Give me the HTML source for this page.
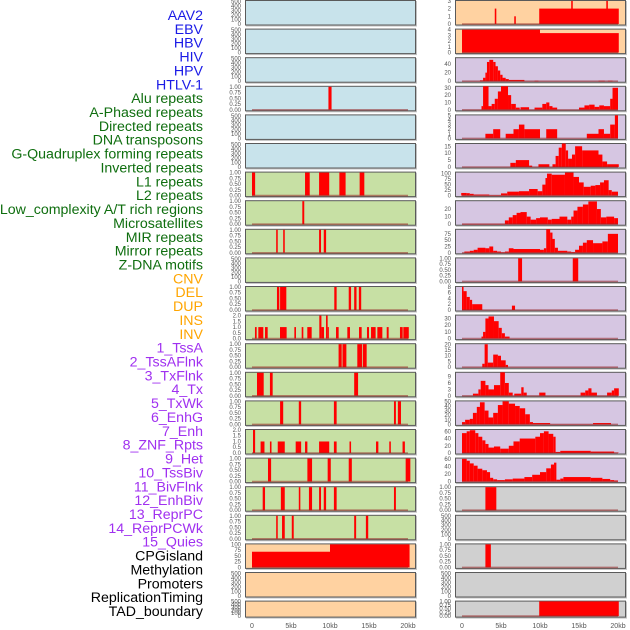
<!DOCTYPE html>
<html><head><meta charset="utf-8"><style>
html,body{margin:0;padding:0;background:#fff;}
svg{display:block;font-family:"Liberation Sans",sans-serif;}
</style></head><body>
<svg id="chart" width="630" height="630" viewBox="0 0 630 630"></svg>
<script>
// ---- labels ----
const trackLabels = ["AAV2","EBV","HBV","HIV","HPV","HTLV-1","Alu repeats","A-Phased repeats","Directed repeats","DNA transposons","G-Quadruplex forming repeats","Inverted repeats","L1 repeats","L2 repeats","Low_complexity A/T rich regions","Microsatellites","MIR repeats","Mirror repeats","Z-DNA motifs","CNV","DEL","DUP","INS","INV","1_TssA","2_TssAFlnk","3_TxFlnk","4_Tx","5_TxWk","6_EnhG","7_Enh","8_ZNF_Rpts","9_Het","10_TssBiv","11_BivFlnk","12_EnhBiv","13_ReprPC","14_ReprPCWk","15_Quies","CPGisland","Methylation","Promoters","ReplicationTiming","TAD_boundary"];
const labelGroups = [6,13,5,15,5]; // blue, green, orange, purple, black
const xTickLabels = ["0","5kb","10kb","15kb","20kb"];
const xTickValues = [0,5,10,15,20];
// ---- y tick arrays ----
const tEmpty = [0,100,200,300,400,500];
const tUnit = [0,0.25,0.5,0.75,1];
const tTwo = [0,0.5,1,1.5,2];
// ---- left column segments [startKb, endKb, value] ----
const L_HIV = [[9.8,10.2,1]];
const L_row7 = [[0,0.4,1],[6.8,7.4,1],[8.6,9.9,1],[11.2,12.0,1],[13.8,14.4,1]];
const L_row8 = [[6.45,6.7,1]];
const L_row9 = [[3.1,3.3,1],[4.0,4.2,1],[8.6,8.85,1],[9.2,9.5,1]];
const L_row11 = [[3.2,3.5,1],[3.6,4.4,1],[10.55,10.85,1],[12.4,12.7,1],[13.1,13.4,1],[13.7,14.0,1]];
const L_row12 = [[0.38,0.6,1],[0.81,1.45,1],[1.67,2.01,1],[3.59,4.44,1],[5.43,5.64,1],[6.37,6.58,1],[7.09,7.65,1],[8.63,8.9,2],[8.9,9.23,1],[9.49,9.7,2],[9.7,9.79,1],[10.77,11.11,1],[12.22,12.56,1],[13.72,14.06,1],[14.74,15.0,1],[15.26,15.85,1],[16.07,16.71,1],[17.27,17.52,1],[18.97,19.32,1],[19.4,20.1,1]];
const L_row13 = [[11.1,11.5,1],[11.6,12.1,1],[13.5,14.1,1],[14.2,14.7,1]];
const L_row14 = [[0.64,1.5,1],[2.3,2.65,1],[13.1,13.6,1]];
const L_row15 = [[3.6,4.0,1],[6.0,6.3,1],[10.5,10.85,1],[18.2,18.45,1],[18.7,19.1,1]];
const L_row16 = [[0.13,0.4,2],[1.1,1.6,1],[2.3,2.5,1],[3.3,4.2,1],[5.6,6.3,1],[6.8,7.1,1],[8.6,9.9,1],[10.5,10.85,1],[12.5,12.7,1],[15.9,16.2,1],[17.6,17.8,1],[19.3,19.6,1]];
const L_row17 = [[2.05,2.45,1],[7.1,7.7,1],[9.7,10.1,1],[12.4,12.8,1],[19.7,20.3,1]];
const L_row18 = [[1.37,1.67,1],[3.7,4.2,1],[6.0,6.2,1],[7.3,7.7,1],[8.6,8.85,1],[9.2,9.5,1],[10.5,10.85,1],[18.2,18.45,1]];
const L_row19 = [[3.1,3.3,1],[3.85,4.2,1],[5.1,5.35,1],[13.1,13.35,1],[14.6,14.9,1]];
const L_row20 = [[0,10,68],[10,20.2,100]];
// ---- right column segments ----
const R_AAV2 = [[4.2,4.4,2],[6.7,6.9,1],[9.9,20.1,2],[14.0,14.2,3],[18.5,18.7,3]];
const R_EBV = [[0,10,4],[10,20.1,3.4]];
const R_HBV = [[2.3,2.7,2],[2.7,3.0,8],[3.0,3.2,20],[3.2,3.5,45],[3.5,4.0,50],[4.0,4.3,45],[4.3,4.6,35],[4.6,4.9,25],[4.9,5.2,15],[5.2,5.6,8],[5.6,6.0,5],[6.0,8.0,3],[9.3,9.8,1],[17.5,18.3,1],[18.7,19.3,1]];
const R_HIV = [[2.5,2.7,5],[2.7,3.4,32],[3.4,3.8,5],[3.8,4.2,8],[4.2,4.6,15],[4.6,5.0,25],[5.0,5.9,32],[5.9,6.3,20],[6.3,6.9,8],[6.9,7.4,3],[7.5,8.6,3.5],[9.3,10.3,3],[10.3,10.8,8],[10.8,11.2,10],[11.2,11.6,5],[11.6,12.2,3],[15.0,15.7,3],[15.7,16.3,6],[16.3,17.0,7],[17.0,17.6,4],[17.6,18.2,6],[18.2,19.0,5],[19.0,19.3,15],[19.3,20.0,30]];
const R_HPV = [[3.0,4.0,1],[4.0,4.9,2],[5.6,6.6,1],[6.6,7.3,2],[7.3,8.0,3],[8.0,10.0,2],[10.8,12.2,2],[16.0,17.5,1],[17.5,18.2,2],[18.2,19.0,1],[19.0,19.6,3],[19.6,20.0,5]];
const R_HTLV = [[6.2,6.9,3],[6.9,8.6,5],[8.6,9.0,1],[9.8,11.2,2],[11.6,12.0,2],[12.0,12.4,8],[12.4,12.8,14],[12.8,13.3,17],[13.3,13.6,12],[13.6,14.1,6],[14.1,14.5,9],[14.5,15.4,15],[15.4,17.5,12],[17.5,18.0,9],[18.0,18.6,4],[18.6,20.1,2]];
const R_row7 = [[-0.1,0.6,12],[0.6,1.0,11],[1.0,1.5,8],[1.5,3.5,5],[3.5,5.0,2],[5.0,5.8,10],[5.8,7.3,18],[7.3,8.6,20],[8.6,9.7,30],[9.7,10.3,20],[10.3,10.7,50],[10.7,10.9,80],[10.9,11.5,100],[11.5,13.2,95],[13.2,14.3,105],[14.3,15.0,85],[15.0,15.6,60],[15.6,16.5,40],[16.5,17.1,45],[17.1,17.7,48],[17.7,18.2,60],[18.2,18.8,70],[18.8,19.2,25],[19.2,20.0,18]];
const R_row8 = [[0,5.5,0.5],[5.5,6.0,5],[6.0,6.5,9],[6.5,7.0,12],[7.0,7.5,15],[7.5,8.3,16],[8.3,8.8,10],[8.8,9.5,6],[9.5,10.0,8],[10.0,11.0,9],[11.0,11.5,6],[11.5,12.5,7],[12.5,13.5,10],[13.5,14.0,6],[14.0,14.3,10],[14.3,14.8,18],[14.8,15.5,23],[15.5,16.2,26],[16.2,17.3,30],[17.3,17.8,20],[17.8,18.5,9],[18.5,19.5,10],[19.5,20.0,8]];
const R_row9 = [[0.3,1.0,5],[1.0,1.5,8],[1.5,2.0,12],[2.0,3.0,20],[3.0,3.5,18],[3.5,4.0,25],[4.0,4.5,8],[4.5,5.0,5],[5.0,5.5,2],[5.5,6.0,5],[6.0,6.6,18],[6.6,10.0,15],[10.0,10.5,12],[10.5,10.8,18],[10.8,11.3,93],[11.3,11.6,80],[11.6,11.9,55],[11.9,12.3,20],[12.3,13.5,8],[13.5,14.0,5],[14.0,14.5,3],[14.5,15.0,12],[15.0,15.5,28],[15.5,16.0,40],[16.0,16.8,50],[16.8,18.0,38],[18.0,18.7,45],[18.7,20.0,75]];
const R_row10 = [[7.2,7.7,1],[14.2,14.9,1]];
const R_row11 = [[0,0.2,8],[0.2,0.6,6.5],[0.6,1.0,4.5],[1.0,1.3,3.5],[1.3,2.6,2],[6.4,6.8,1.5]];
const R_row12 = [[2.5,2.7,3],[2.7,3.0,10],[3.0,3.4,30],[3.4,4.1,33],[4.1,4.7,26],[4.7,5.1,16],[5.1,5.5,8],[5.5,6.1,3]];
const R_row13 = [[2.6,2.9,3],[2.9,3.3,20],[3.3,4.0,4],[4.0,4.6,11],[4.6,5.0,10],[5.0,5.6,6],[5.6,5.9,2]];
const R_row14 = [[1.4,2.1,1],[2.1,2.4,3],[2.4,3.0,7],[3.0,3.4,5],[3.4,4.1,3],[4.1,4.9,5],[4.9,5.5,11],[5.5,6.0,6],[6.0,6.5,1.5],[6.7,7.6,1],[7.6,7.9,4],[7.9,8.3,1.5],[9.9,10.7,1.5],[15.2,15.8,1.5],[15.8,16.2,2.5],[16.2,16.6,3.5],[16.6,17.3,1.5],[18.6,19.2,1.5],[19.2,19.5,2.5],[19.5,20.1,3.5]];
const R_row15 = [[0,0.4,5],[0.4,1.0,10],[1.0,1.4,12],[1.4,1.9,25],[1.9,2.3,38],[2.3,2.9,48],[2.9,3.4,30],[3.4,4.0,15],[4.0,4.6,25],[4.6,5.2,42],[5.2,6.0,50],[6.0,6.8,45],[6.8,7.4,40],[7.4,8.1,35],[8.1,8.7,22],[8.7,9.1,5],[9.1,11.3,3],[11.3,16.8,0.5],[16.8,19.1,3]];
const R_row16 = [[0,0.6,55],[0.6,1.0,60],[1.0,1.7,63],[1.7,2.1,55],[2.1,2.6,45],[2.6,3.0,35],[3.0,3.4,25],[3.4,4.1,15],[4.1,4.9,18],[4.9,6.0,12],[6.0,6.6,20],[6.6,7.4,32],[7.4,9.4,40],[9.4,10.0,45],[10.0,10.5,55],[10.5,11.1,60],[11.1,11.7,53],[11.7,12.0,45],[12.0,12.6,3],[12.6,16.5,6],[16.5,19.5,4],[19.5,20.1,1]];
const R_row17 = [[0,0.6,60],[0.6,1.0,55],[1.0,1.5,48],[1.5,2.0,42],[2.0,2.6,34],[2.6,3.2,30],[3.2,3.6,25],[3.6,4.0,10],[4.0,4.5,6],[4.5,5.5,4],[5.5,6.5,6],[6.5,8.0,8],[8.0,9.0,12],[9.0,10.0,18],[10.0,10.8,25],[10.8,11.4,35],[11.4,11.8,45],[11.8,12.1,50],[12.1,12.6,5],[12.6,13.0,8],[13.0,16.5,12],[16.5,18.0,10],[18.0,19.0,7],[19.0,19.5,4],[19.5,20.0,3]];
const R_row18 = [[3.0,4.4,1]];
const R_row20 = [[3.0,3.7,1]];
const R_row22 = [[9.9,20.1,1]];

const BLUE="#c8e3eb",GREEN="#c7e0a4",ORANGE="#ffd2a1",PURPLE="#d6c6e2",GRAY="#d0d0d0";
const leftPanels = [
 [BLUE,[],520,tEmpty],[BLUE,[],520,tEmpty],[BLUE,[],520,tEmpty],[BLUE,L_HIV,1.02,tUnit],[BLUE,[],520,tEmpty],[BLUE,[],520,tEmpty],
 [GREEN,L_row7,1.02,tUnit],[GREEN,L_row8,1.02,tUnit],[GREEN,L_row9,1.02,tUnit],[GREEN,[],520,tEmpty],[GREEN,L_row11,1.02,tUnit],
 [GREEN,L_row12,2.04,tTwo],[GREEN,L_row13,1.02,tUnit],[GREEN,L_row14,1.02,tUnit],[GREEN,L_row15,1.02,tUnit],[GREEN,L_row16,2.04,tTwo],
 [GREEN,L_row17,1.02,tUnit],[GREEN,L_row18,1.02,tUnit],[GREEN,L_row19,1.02,tUnit],
 [ORANGE,L_row20,102,[0,25,50,75,100]],[ORANGE,[],520,tEmpty],[ORANGE,[],520,tEmpty]
];
const rightPanels = [
 [ORANGE,R_AAV2,3.05,[0,1,2,3]],[ORANGE,R_EBV,4.1,[0,1,2,3,4]],[PURPLE,R_HBV,55,[0,20,40]],[PURPLE,R_HIV,32,[0,10,20,30]],
 [PURPLE,R_HPV,5.1,[0,1,2,3,4,5]],[PURPLE,R_HTLV,17,[0,5,10,15]],[PURPLE,R_row7,107,[0,25,50,75,100]],[PURPLE,R_row8,31,[0,10,20]],
 [PURPLE,R_row9,93,[0,25,50,75]],[PURPLE,R_row10,1.02,tUnit],[PURPLE,R_row11,8.1,[0,2,4,6,8]],[PURPLE,R_row12,35,[0,10,20,30]],
 [PURPLE,R_row13,20.5,[0,5,10,15,20]],[PURPLE,R_row14,11,[0,3,6,9]],[PURPLE,R_row15,51,[0,10,20,30,40,50]],[PURPLE,R_row16,65,[0,20,40,60]],
 [PURPLE,R_row17,62,[0,20,40,60]],[GRAY,R_row18,1.02,tUnit],[GRAY,[],520,tEmpty],[GRAY,R_row20,1.02,tUnit],[GRAY,[],520,tEmpty],[GRAY,R_row22,1.02,tUnit]
];

const NS="http://www.w3.org/2000/svg";
const svg=document.getElementById('chart');
function mk(tag,attrs,parent){const e=document.createElementNS(NS,tag);for(const k in attrs)e.setAttribute(k,attrs[k]);(parent||svg).appendChild(e);return e;}

const groupColors=["#1a1ae6","#0f6e0f","#ffa500","#a030f0","#000000"];
let gi=0,cnt=0;
const labG=mk('g',{});


const step=(611-15)/(trackLabels.length-1);
trackLabels.forEach((t,i)=>{
  while(cnt>=labelGroups[gi]){cnt=0;gi++;}
  cnt++;
  const tx=mk('text',{x:203,y:(15+i*step+5).toFixed(1),'text-anchor':'end','font-size':'14.2',fill:groupColors[gi]},labG);
  tx.textContent=t;
  
  
});

function fmt(v,ticks){
  const dec=ticks.some(t=>t%1!==0);
  if(!dec)return String(v);
  if(ticks===tUnit)return v.toFixed(2);
  return v.toFixed(1);
}
function drawPanel(p,x0,top,h,col,ri){
  const [bg,segs,ymax,ticks]=p;
  const w=171;
  const xs=kb=>x0+7+kb*7.8;
  const yb=top+h-1.5, yt=top+0.5;
  const ys=v=>yb-(v/ymax)*(yb-yt);
  const g=mk('g',{});
  
  
  mk('rect',{x:x0+1,y:top+1,width:w,height:h,fill:'#9a9a9a',opacity:0.6},g);
  mk('rect',{x:x0+0.5,y:top+0.5,width:w-1,height:h-1,fill:bg,stroke:'#5a5a5a','stroke-width':1},g);
  segs.forEach(s=>{
    const xa=Math.max(xs(s[0]),x0+1),xb=Math.min(xs(s[1]),x0+w-1);
    const r=mk('rect',{x:xa.toFixed(2),y:ys(s[2]).toFixed(2),width:Math.max(xb-xa,1.2).toFixed(2),height:(yb-ys(s[2])).toFixed(2),fill:'#ff0000'},g);
    
    
  });
  if(segs.length) mk('line',{x1:xs(0),x2:xs(20),y1:yb,y2:yb,stroke:'rgba(150,40,40,0.55)','stroke-width':1.6},g);
  ticks.forEach(t=>{
    const tt=mk('text',{x:x0-4,y:(ys(t)+2).toFixed(1),'text-anchor':'end','font-size':'6',fill:'#555'},g);
    tt.textContent=fmt(t,ticks);
    
    
  });
}
for(let i=0;i<22;i++){
  const top=i*28.6, h=(i===21)?17:25.5;
  drawPanel(leftPanels[i],245,top,h,'left',i);
  drawPanel(rightPanels[i],455,top,h,'right',i);
}
[245,455].forEach((x0,ci)=>{
  xTickValues.forEach((v,j)=>{
    const t=mk('text',{x:x0+7+v*7.8,y:628,'text-anchor':'middle','font-size':'7',fill:'#555'});
    t.textContent=xTickLabels[j];
    
    
  });
});
</script>
</body></html>
